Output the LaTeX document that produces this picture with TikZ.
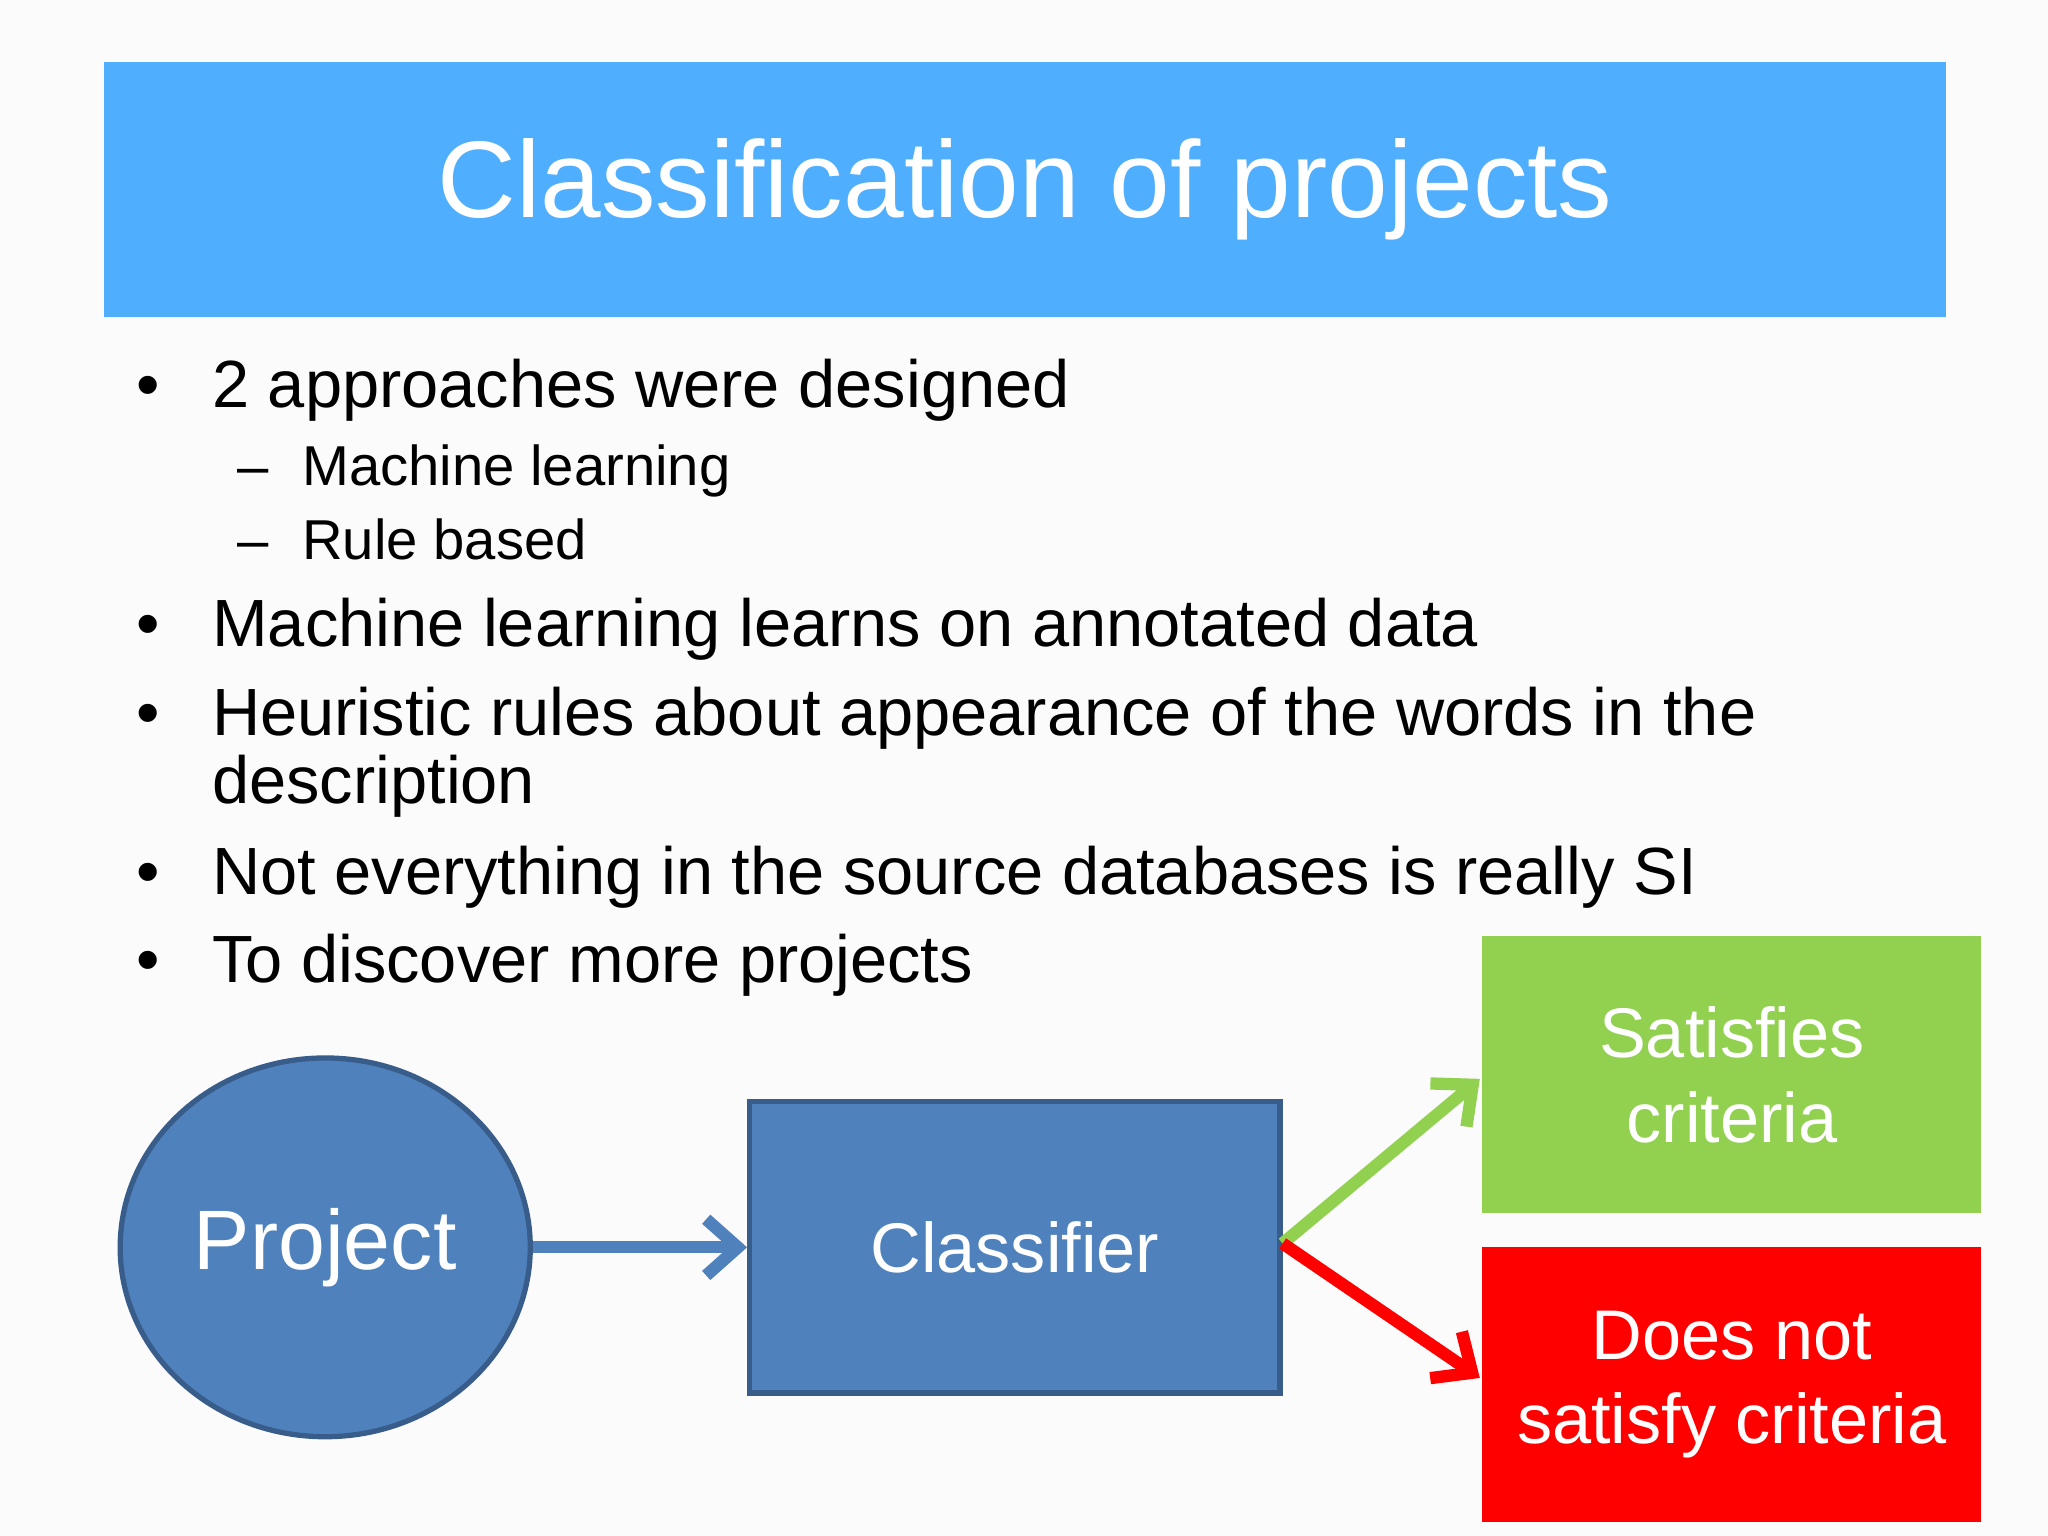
\documentclass[tikz,border=0pt]{standalone}
\usepackage{fontspec}
\setmainfont{Liberation Sans}
\usetikzlibrary{arrows.meta,shapes.geometric}
\definecolor{titleb}{HTML}{4FAEFE}
\definecolor{shapeb}{HTML}{4F81BD}
\definecolor{edgeb}{HTML}{385D8A}
\definecolor{grn}{HTML}{92D050}
\definecolor{rd}{HTML}{FF0000}
\begin{document}
\begin{tikzpicture}[x=0.01306cm,y=-0.01306cm,
  bl/.style={anchor=base west,font=\fontsize{19}{22}\selectfont},
  sb/.style={anchor=base west,font=\fontsize{16}{19}\selectfont},
  arr/.style={line width=3.5pt,-{Straight Barb[length=9pt,width=16pt,line width=3.5pt]}}]
\useasboundingbox (0,0) rectangle (1568,1176);
\fill[white!97!gray] (0,0) rectangle (1568,1176);
\node[fill=titleb,minimum width=1410*0.01306cm,minimum height=195*0.01306cm,inner sep=0,text=white,font=\fontsize{31}{36}\selectfont] (title) at (785,145) {Classification of projects};
\foreach \y in {312,495,563,685,752} \node[bl] at (95,\y) {•};
\node[bl] (b1) at (153,312) {2 approaches were designed};
\node[sb] at (172,372) {–}; \node[sb] (s1) at (222,372) {Machine learning};
\node[sb] at (172,428) {–}; \node[sb] (s2) at (222,428) {Rule based};
\node[bl] (b2) at (153,495) {Machine learning learns on annotated data};
\node[bl] (b3) at (153,563) {Heuristic rules about appearance of the words in the};
\node[bl] (b3b) at (153,615) {description};
\node[bl] (b4) at (153,685) {Not everything in the source databases is really SI};
\node[bl] (b5) at (153,752) {To discover more projects};
\node[ellipse,draw=edgeb,line width=1.5pt,fill=shapeb,minimum width=314*0.01306cm,minimum height=290*0.01306cm,text=white,font=\fontsize{24}{28}\selectfont] (p) at (249,955) {Project};
\node[draw=edgeb,line width=1.5pt,fill=shapeb,minimum width=406*0.01306cm,minimum height=223*0.01306cm,text=white,font=\fontsize{20}{24}\selectfont] (c) at (777,955) {Classifier};
\node[fill=grn,minimum width=382*0.01306cm,minimum height=212*0.01306cm,text=white,align=center,font=\fontsize{20}{24}\selectfont] (g) at (1326,823) {Satisfies\\criteria};
\node[fill=rd,minimum width=382*0.01306cm,minimum height=211*0.01306cm,text=white,align=center,font=\fontsize{20}{24}\selectfont] (r) at (1326,1060) {Does not\\satisfy criteria};
\draw[arr,color=shapeb] (p.east) -- (c.west);
\coordinate (o) at (982,952);
\draw[arr,color=grn] (o) -- (1133,826);
\draw[arr,color=rd] (o) -- (1133,1055);
\end{tikzpicture}
\end{document}
